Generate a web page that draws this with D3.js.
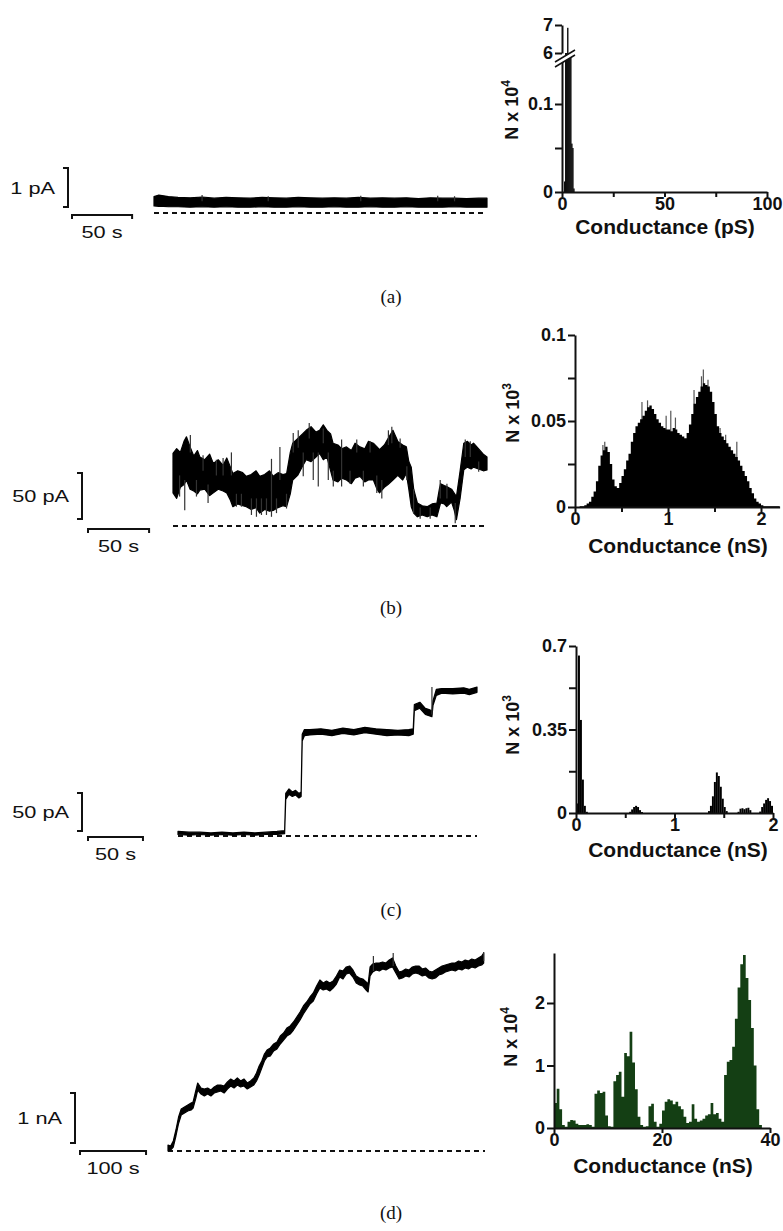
<!DOCTYPE html>
<html>
<head>
<meta charset="utf-8">
<script src="https://cdn.jsdelivr.net/npm/d3@7/dist/d3.min.js"></script>
<style>
  body { margin: 0; background: #fff; }
  svg { display: block; }
</style>
</head>
<body>
<div id="chartArea"></div>
<script>
// ---------- data ----------

// (a) trace: time (s), band low / high (pA)
var aTime = [0, 4, 8, 12, 20, 30, 40, 50, 60, 70, 80, 90, 100, 110, 120, 130, 140, 150, 160, 170, 180, 190, 200, 210, 220, 230, 240, 250, 260, 270, 277];
var aHi = [0.42, 0.46, 0.44, 0.42, 0.40, 0.39, 0.41, 0.38, 0.40, 0.39, 0.38, 0.40, 0.39, 0.38, 0.40, 0.39, 0.38, 0.39, 0.38, 0.40, 0.38, 0.39, 0.38, 0.39, 0.37, 0.39, 0.38, 0.38, 0.37, 0.38, 0.38];
var aLo = [0.18, 0.17, 0.17, 0.16, 0.16, 0.15, 0.16, 0.15, 0.16, 0.15, 0.15, 0.16, 0.15, 0.15, 0.16, 0.15, 0.15, 0.16, 0.15, 0.15, 0.16, 0.15, 0.15, 0.16, 0.15, 0.15, 0.15, 0.16, 0.15, 0.15, 0.15];
var aSpikes = [[40, 0.3, 0.46], [95, 0.3, 0.43], [172, 0.3, 0.44], [236, 0.3, 0.44], [250, 0.3, 0.43]];
// (a) histogram: bin start (pS), width 0.5, N x 10^4
var aBinWidth = 0.5;
var aBins = [1, 1.5, 2, 2.5, 3, 3.5, 4, 4.5, 5, 5.5];
var aCounts = [0.012, 6.0, 6.0, 6.9, 6.0, 6.0, 6.0, 0.055, 0.05, 0.004];

// (b) trace: time (s), low / high (pA)
var bTime = [0, 3, 6, 9, 11, 14, 17, 20, 22, 26, 30, 33, 37, 41, 44, 47, 49, 53, 57, 60, 64, 68, 71, 75, 79, 82, 86, 90, 93, 96, 98, 102, 106, 109, 113, 117, 120, 123, 126, 129, 131, 135, 138, 142, 146, 149, 153, 157, 160, 164, 167, 169, 173, 176, 180, 184, 188, 191, 193, 195, 197, 200, 204, 208, 212, 216, 218, 219, 222, 224, 228, 230, 232, 235, 238, 241, 244, 246, 250, 254, 257];
var bLo = [36, 30, 42, 45, 50, 40, 38, 35, 39, 40, 33, 36, 40, 38, 36, 28, 21, 24, 22, 21, 18, 20, 14, 18, 16, 17, 20, 22, 21, 35, 50, 55, 65, 72, 70, 75, 79, 72, 75, 60, 50, 48, 52, 50, 46, 52, 54, 48, 50, 50, 40, 36, 42, 45, 50, 55, 50, 57, 40, 21, 14, 10, 12, 10, 12, 10, 20, 25, 24, 21, 26, 18, 7, 30, 61, 64, 62, 64, 62, 60, 61];
var bHi = [79, 84, 80, 92, 97, 86, 76, 82, 75, 72, 78, 68, 72, 66, 74, 64, 57, 60, 58, 54, 56, 60, 54, 56, 60, 54, 58, 56, 57, 80, 90, 95, 100, 104, 108, 102, 104, 110, 104, 100, 90, 88, 84, 86, 82, 90, 86, 84, 92, 90, 86, 83, 88, 95, 104, 92, 88, 86, 70, 64, 40, 25, 22, 21, 24, 25, 40, 46, 44, 43, 40, 36, 32, 60, 90, 92, 88, 90, 84, 78, 75];
// visible noise spikes: time, from, to (pA)
var bSpikes = [[5.4, 32, 55], [9.6, 17, 50], [14.2, 80, 99], [19.2, 32, 50], [24.6, 60, 77], [28.7, 25, 45], [35.5, 55, 72], [41, 55, 74], [47.8, 55, 80], [51.9, 21, 35], [56, 21, 35], [64.2, 12, 30], [68.3, 10, 30], [72.4, 12, 30], [76.5, 12, 30], [80.6, 10, 73], [84.7, 14, 30], [87.5, 50, 86], [92.9, 19, 35], [98.4, 80, 101], [102.5, 85, 104], [106.6, 54, 80], [111.5, 95, 112], [114.8, 50, 80], [118.9, 43, 80], [123, 90, 106], [127.1, 50, 80], [131.2, 43, 60], [138, 43, 94], [144.9, 46, 60], [150.4, 80, 94], [155.8, 43, 60], [161.3, 80, 92], [166.8, 36, 55], [170.9, 30, 50], [176.3, 88, 104], [179.1, 90, 108], [185.9, 85, 95], [191.4, 50, 65], [196.9, 14, 40], [202.3, 8, 20], [210.5, 8, 20], [218.7, 30, 50], [224.2, 30, 46], [231, 3, 25], [239.2, 75, 94], [243.3, 75, 92], [250.2, 59, 70]];
// (b) histogram: bins of 0.025 nS from 0, N x 10^3
var bBinWidth = 0.025;
var bCounts = [0, 0, 0.0005, 0.0005, 0.001, 0.002, 0.003, 0.006, 0.009, 0.015,
               0.024, 0.030, 0.033, 0.035, 0.032, 0.025, 0.016, 0.012, 0.011, 0.014,
               0.018, 0.022, 0.027, 0.031, 0.038, 0.043, 0.047, 0.049, 0.051, 0.053,
               0.056, 0.058, 0.059, 0.057, 0.054, 0.051, 0.049, 0.047, 0.046, 0.045,
               0.045, 0.044, 0.046, 0.045, 0.043, 0.042, 0.041, 0.040, 0.043, 0.048,
               0.054, 0.060, 0.064, 0.067, 0.070, 0.072, 0.071, 0.070, 0.067, 0.061,
               0.054, 0.047, 0.043, 0.041, 0.039, 0.037, 0.035, 0.033, 0.031, 0.029,
               0.027, 0.024, 0.021, 0.018, 0.015, 0.011, 0.008, 0.005, 0.003, 0.002,
               0.001, 0.0005, 0.0005, 0.0005, 0.0005, 0.0005, 0.0005, 0.0005];
var bHistSpikes = [[0.30, 0.036], [0.32, 0.038], [0.72, 0.061], [0.78, 0.062], [0.98, 0.053], [1.03, 0.056], [1.08, 0.052], [1.28, 0.068], [1.36, 0.076], [1.38, 0.080], [1.43, 0.074], [1.56, 0.046], [1.62, 0.042], [1.74, 0.038]];

// (c) trace: time (s), low / high (pA)
var cTime = [0, 10, 20, 30, 40, 50, 60, 70, 80, 90, 97, 98, 101, 104, 107, 110, 112, 113, 115, 120, 130, 140, 150, 160, 170, 180, 190, 200, 210, 214, 215, 220, 225, 229, 231, 232, 235, 240, 250, 260, 265, 272];
var cLo = [2, 1, 2, 1, 2, 1, 2, 1, 2, 2, 3, 48, 55, 52, 54, 50, 52, 125, 132, 133, 134, 132, 135, 133, 136, 134, 132, 133, 132, 134, 165, 168, 160, 158, 157, 172, 185, 188, 187, 188, 186, 189];
var cHi = [6, 5, 5, 4, 5, 4, 5, 4, 5, 6, 7, 56, 62, 58, 60, 56, 58, 134, 140, 140, 141, 139, 142, 140, 143, 141, 140, 139, 140, 141, 173, 176, 168, 166, 164, 178, 193, 194, 194, 195, 193, 196];
var cSpikes = [[231, 160, 196]];
// (c) histogram: bin start (nS), width 0.02, N x 10^3
var cBinWidth = 0.02;
var cBins = [0.00, 0.02, 0.04, 0.06, 0.08, 0.10, 0.54, 0.56, 0.58, 0.60, 0.62, 0.64, 0.66, 1.34, 1.36, 1.38, 1.40, 1.42, 1.44, 1.46, 1.48, 1.50, 1.52, 1.64, 1.66, 1.68, 1.70, 1.72, 1.74, 1.76, 1.86, 1.88, 1.90, 1.92, 1.94, 1.96, 1.98];
var cCounts = [0.04, 0.66, 0.39, 0.14, 0.03, 0.005, 0.005, 0.015, 0.025, 0.03, 0.025, 0.012, 0.004, 0.008, 0.03, 0.07, 0.13, 0.17, 0.155, 0.11, 0.06, 0.025, 0.008, 0.005, 0.018, 0.02, 0.016, 0.02, 0.022, 0.012, 0.006, 0.025, 0.04, 0.055, 0.062, 0.05, 0.03];

// (d) trace: time (s), low / high (nA)
var dTime = [0, 4, 8, 12, 16, 20, 25, 30, 35, 38, 42, 45, 50, 55, 60, 65, 70, 75, 80, 85, 90, 95, 100, 105, 110, 115, 120, 125, 130, 134, 138, 142, 146, 150, 155, 160, 165, 170, 175, 180, 185, 190, 195, 200, 205, 210, 215, 220, 225, 230, 235, 240, 245, 250, 255, 260, 265, 270, 275, 280, 285, 290, 295, 300, 303, 306, 310, 315, 320, 325, 330, 335, 340, 345, 350, 355, 360, 365, 370, 375, 380, 385, 390, 395, 400, 405, 410, 415, 420, 425, 430, 435, 440, 445, 450, 455, 460, 465, 470, 475, 478];
var dLo = [0.00, 0.02, 0.08, 0.30, 0.55, 0.72, 0.76, 0.80, 0.82, 0.86, 1.05, 1.22, 1.14, 1.10, 1.14, 1.10, 1.16, 1.18, 1.20, 1.16, 1.24, 1.30, 1.26, 1.32, 1.28, 1.30, 1.24, 1.28, 1.32, 1.40, 1.52, 1.66, 1.80, 1.88, 1.90, 2.00, 2.04, 2.14, 2.22, 2.30, 2.34, 2.42, 2.52, 2.62, 2.74, 2.84, 2.94, 3.00, 3.14, 3.26, 3.22, 3.24, 3.20, 3.26, 3.34, 3.48, 3.44, 3.54, 3.56, 3.48, 3.36, 3.32, 3.30, 3.22, 3.18, 3.50, 3.58, 3.62, 3.60, 3.64, 3.62, 3.66, 3.68, 3.56, 3.44, 3.46, 3.50, 3.48, 3.54, 3.56, 3.54, 3.50, 3.52, 3.46, 3.44, 3.46, 3.52, 3.54, 3.58, 3.60, 3.62, 3.60, 3.64, 3.62, 3.66, 3.64, 3.68, 3.66, 3.70, 3.72, 3.76];
var dHi = [0.12, 0.10, 0.20, 0.42, 0.68, 0.84, 0.88, 0.92, 0.96, 0.98, 1.20, 1.36, 1.26, 1.24, 1.26, 1.22, 1.28, 1.32, 1.32, 1.30, 1.38, 1.44, 1.40, 1.46, 1.40, 1.44, 1.36, 1.40, 1.46, 1.56, 1.70, 1.80, 1.94, 2.02, 2.06, 2.14, 2.18, 2.30, 2.36, 2.46, 2.50, 2.58, 2.68, 2.78, 2.90, 2.98, 3.08, 3.16, 3.30, 3.42, 3.36, 3.40, 3.36, 3.40, 3.50, 3.62, 3.60, 3.68, 3.70, 3.62, 3.50, 3.46, 3.44, 3.38, 3.34, 3.68, 3.74, 3.76, 3.76, 3.78, 3.76, 3.82, 3.86, 3.70, 3.58, 3.60, 3.64, 3.62, 3.68, 3.70, 3.70, 3.64, 3.66, 3.60, 3.58, 3.62, 3.66, 3.70, 3.72, 3.74, 3.76, 3.76, 3.80, 3.78, 3.82, 3.80, 3.84, 3.82, 3.86, 3.90, 3.96];
var dSpikes = [[311, 3.6, 3.9], [341, 3.7, 3.96], [478, 3.8, 3.98]];
// (d) histogram: bins of 0.5 nS from 0, N x 10^4
var dBinWidth = 0.5;
var dCounts = [0.40, 0.63, 0.30, 0.05, 0.02, 0.10, 0.13, 0.12, 0.07, 0.05,
               0.05, 0.05, 0.06, 0.05, 0.02, 0.55, 0.60, 0.56, 0.58, 0.20,
               0.03, 0.02, 0.75, 0.85, 0.90, 0.50, 1.20, 1.15, 1.54, 1.05,
               0.62, 0.18, 0.05, 0.02, 0.03, 0.35, 0.39, 0.10, 0.02, 0.07,
               0.28, 0.42, 0.46, 0.44, 0.38, 0.42, 0.35, 0.30, 0.18, 0.08,
               0.10, 0.38, 0.15, 0.10, 0.12, 0.15, 0.20, 0.22, 0.40, 0.22,
               0.24, 0.15, 0.10, 0.85, 1.06, 1.09, 1.30, 1.75, 2.25, 2.62,
               2.77, 2.40, 2.05, 1.60, 1.00, 0.30, 0.05, 0, 0, 0];

// ---------- drawing ----------
var SANS = "'Liberation Sans', Arial, Helvetica, sans-serif";
var INK = "#111";
var STRETCH = 1.28; // the trace labels are stretched sideways in the original

var svg = d3.select("#chartArea").append("svg")
    .attr("width", 783)
    .attr("height", 1231);

function stretchedText(g, x, y, anchor, label) {
    g.append("text")
        .attr("transform", "translate(" + x + "," + y + ") scale(" + STRETCH + ",1)")
        .attr("text-anchor", anchor)
        .style("font", "17px " + SANS).attr("fill", INK)
        .text(label);
}

//current trace with dashed zero line and scale bars
function drawTrace(c) {
    var x = d3.scaleLinear().domain([0, c.tMax]).range([c.x0, c.x1]);
    var y = d3.scaleLinear().domain([0, c.barAmp]).range([c.base, c.base - c.ampPx]);
    var g = svg.append("g");

    g.append("line")
        .attr("x1", x(0)).attr("x2", x(c.tMax))
        .attr("y1", y(0)).attr("y2", y(0))
        .attr("stroke", INK).attr("stroke-width", 2)
        .attr("stroke-dasharray", "5,4");

    var pts = c.time.map(function (t, i) { return { t: t, lo: c.lo[i], hi: c.hi[i] }; });
    g.append("path").datum(pts)
        .attr("d", d3.area().x(d => x(d.t)).y0(d => y(d.lo)).y1(d => y(d.hi)))
        .attr("fill", "#000").attr("stroke", "#000")
        .attr("stroke-width", 1.2).attr("stroke-linejoin", "round");

    g.selectAll("line.spike")
        .data(c.spikes)
        .enter().append("line")
        .attr("class", "spike")
        .attr("x1", d => x(d[0])).attr("x2", d => x(d[0]))
        .attr("y1", d => y(d[1])).attr("y2", d => y(d[2]))
        .attr("stroke", "#333").attr("stroke-width", 1.2);

    // vertical (amplitude) bar
    var h = y(0) - y(c.barAmp);
    g.append("path")
        .attr("d", "M" + (c.vx - 5) + "," + (c.vy - h) + "H" + c.vx + "V" + c.vy + "H" + (c.vx - 5))
        .attr("fill", "none").attr("stroke", INK).attr("stroke-width", 2);
    stretchedText(g, c.vx - 13, c.vy - h / 2 + 6, "end", c.ampLabel);

    // horizontal (time) bar
    var w = x(c.barTime) - x(0);
    g.append("path")
        .attr("d", "M" + c.hx + "," + (c.hy + 4) + "V" + c.hy + "H" + (c.hx + w) + "V" + (c.hy + 4))
        .attr("fill", "none").attr("stroke", INK).attr("stroke-width", 2);
    stretchedText(g, c.hx + w / 2, c.hy + 23, "middle", c.timeLabel);
}

function styleAxis(g) {
    g.selectAll("path.domain").attr("stroke", INK).attr("stroke-width", 2);
    g.selectAll(".tick line").attr("stroke", INK).attr("stroke-width", 2);
    g.selectAll(".tick text").attr("fill", INK).style("font", "bold 18px " + SANS);
}

function labelFormat(shown) {
    return function (d) { return shown.indexOf(d) >= 0 ? String(d) : ""; };
}

function xAxis(x, yPos, ticks, shown) {
    var g = svg.append("g").attr("transform", "translate(0," + yPos + ")")
        .call(d3.axisBottom(x).tickValues(ticks).tickFormat(labelFormat(shown))
            .tickSize(5).tickSizeOuter(0).tickPadding(0));
    styleAxis(g);
}

function yAxis(y, xPos, ticks, shown) {
    var g = svg.append("g").attr("transform", "translate(" + xPos + ",0)")
        .call(d3.axisLeft(y).tickValues(ticks).tickFormat(labelFormat(shown))
            .tickSize(7).tickSizeOuter(0).tickPadding(2));
    styleAxis(g);
}

function titles(xMid, xBaseline, yTitleX, yTitleY, exp, unit) {
    svg.append("text")
        .attr("x", xMid).attr("y", xBaseline)
        .attr("text-anchor", "middle")
        .style("font", "bold 21px " + SANS).attr("fill", INK)
        .text("Conductance (" + unit + ")");
    var t = svg.append("text")
        .attr("transform", "translate(" + yTitleX + "," + yTitleY + ") rotate(-90)")
        .attr("text-anchor", "middle")
        .style("font", "bold 18px " + SANS).attr("fill", INK);
    t.append("tspan").text("N x 10");
    t.append("tspan").attr("dy", -8).style("font-size", "12px").text(exp);
}

function caption(label, yPos) {
    svg.append("text")
        .attr("x", 391).attr("y", yPos)
        .attr("text-anchor", "middle")
        .style("font", "19px 'Liberation Serif', 'Times New Roman', serif")
        .attr("fill", INK)
        .text(label);
}

function stepHist(x, y, width, counts, fill) {
    var pts = counts.map(function (v, i) { return { s: i * width, v: v }; });
    pts.push({ s: counts.length * width, v: counts[counts.length - 1] });
    svg.append("path").datum(pts)
        .attr("d", d3.area().curve(d3.curveStepAfter)
            .x(d => x(d.s)).y0(y(0)).y1(d => y(d.v)))
        .attr("fill", fill);
}

// ===== (a) =====
drawTrace({
    time: aTime, lo: aLo, hi: aHi, spikes: aSpikes, tMax: 277,
    x0: 154, x1: 487, base: 213, barAmp: 1, ampPx: 39, barTime: 50,
    vx: 68, vy: 207, hx: 72, hy: 215, ampLabel: "1 pA", timeLabel: "50 s"
});

var axA = d3.scaleLinear().domain([0, 100]).range([562, 767]);
var ayLow = d3.scaleLinear().domain([0, 0.15]).range([192, 60]);
var ayHigh = d3.scaleLinear().domain([6, 7]).range([53, 25]);
function ayA(v) { return v >= 6 ? ayHigh(v) : ayLow(Math.min(v, 0.15)); }

svg.append("g").selectAll("rect")
    .data(aBins.map((b, i) => ({ b: b, v: aCounts[i] })))
    .enter().append("rect")
    .attr("x", d => axA(d.b))
    .attr("width", d => axA(d.b + aBinWidth) - axA(d.b) + 0.3)
    .attr("y", d => ayA(d.v))
    .attr("height", d => ayLow(0) - ayA(d.v))
    .attr("fill", "#000");

xAxis(axA, 192, [0, 25, 50, 75, 100], [0, 50, 100]);
yAxis(ayLow, 562, [0, 0.05, 0.1], [0, 0.1]);
yAxis(ayHigh, 562, [6, 7], [6, 7]);
// axis break marks
svg.append("path")
    .attr("d", "M555,62 L575,50 L575,55 L555,67 Z")
    .attr("fill", "#fff");
svg.append("path")
    .attr("d", "M555,62 L575,50 M555,67 L575,55")
    .attr("stroke", INK).attr("stroke-width", 1.5);
titles(665, 234, 518, 110, "4", "pS");
caption("(a)", 303);

// ===== (b) =====
drawTrace({
    time: bTime, lo: bLo, hi: bHi, spikes: bSpikes, tMax: 257,
    x0: 173, x1: 487, base: 526, barAmp: 50, ampPx: 46, barTime: 50,
    vx: 82, vy: 519, hx: 88, hy: 529, ampLabel: "50 pA", timeLabel: "50 s"
});

var bx = d3.scaleLinear().domain([0, 2.2]).range([575, 779.6]);
var by = d3.scaleLinear().domain([0, 0.1]).range([507, 335]);
svg.append("g").selectAll("line")
    .data(bHistSpikes)
    .enter().append("line")
    .attr("x1", d => bx(d[0])).attr("x2", d => bx(d[0]))
    .attr("y1", by(0)).attr("y2", d => by(d[1]))
    .attr("stroke", "#555").attr("stroke-width", 1.2);
stepHist(bx, by, bBinWidth, bCounts, "#000");
xAxis(bx, 507, [0, 0.5, 1, 1.5, 2], [0, 1, 2]);
yAxis(by, 575, [0, 0.025, 0.05, 0.075, 0.1], [0, 0.05, 0.1]);
titles(678, 553, 519, 413, "3", "nS");
caption("(b)", 614);

// ===== (c) =====
drawTrace({
    time: cTime, lo: cLo, hi: cHi, spikes: cSpikes, tMax: 272,
    x0: 178, x1: 477, base: 836, barAmp: 50, ampPx: 38, barTime: 50,
    vx: 82, vy: 831, hx: 88, hy: 837, ampLabel: "50 pA", timeLabel: "50 s"
});

var cx = d3.scaleLinear().domain([0, 2]).range([576, 773]);
var cy = d3.scaleLinear().domain([0, 0.7]).range([813, 646]);
svg.append("g").selectAll("rect")
    .data(cBins.map((b, i) => ({ b: b, v: cCounts[i] })))
    .enter().append("rect")
    .attr("x", d => cx(d.b))
    .attr("width", d => cx(d.b + cBinWidth) - cx(d.b))
    .attr("y", d => cy(d.v))
    .attr("height", d => cy(0) - cy(d.v))
    .attr("fill", "#000");
xAxis(cx, 813, [0, 0.5, 1, 1.5, 2], [0, 1, 2]);
yAxis(cy, 576, [0, 0.175, 0.35, 0.525, 0.7], [0, 0.35, 0.7]);
titles(678, 857, 519, 725, "3", "nS");
caption("(c)", 916);

// ===== (d) =====
drawTrace({
    time: dTime, lo: dLo, hi: dHi, spikes: dSpikes, tMax: 480,
    x0: 168, x1: 485, base: 1151, barAmp: 1, ampPx: 50, barTime: 100,
    vx: 75, vy: 1143, hx: 80, hy: 1151, ampLabel: "1 nA", timeLabel: "100 s"
});

var dx = d3.scaleLinear().domain([0, 40]).range([554, 770]);
var dy = d3.scaleLinear().domain([0, 2.8]).range([1128, 953]);
stepHist(dx, dy, dBinWidth, dCounts, "#143f14");
xAxis(dx, 1128, [0, 20, 40], [0, 20, 40]);
yAxis(dy, 554, [0, 1, 2], [0, 1, 2]);
titles(663, 1173, 517, 1037, "4", "nS");
caption("(d)", 1219);
</script>
</body>
</html>
